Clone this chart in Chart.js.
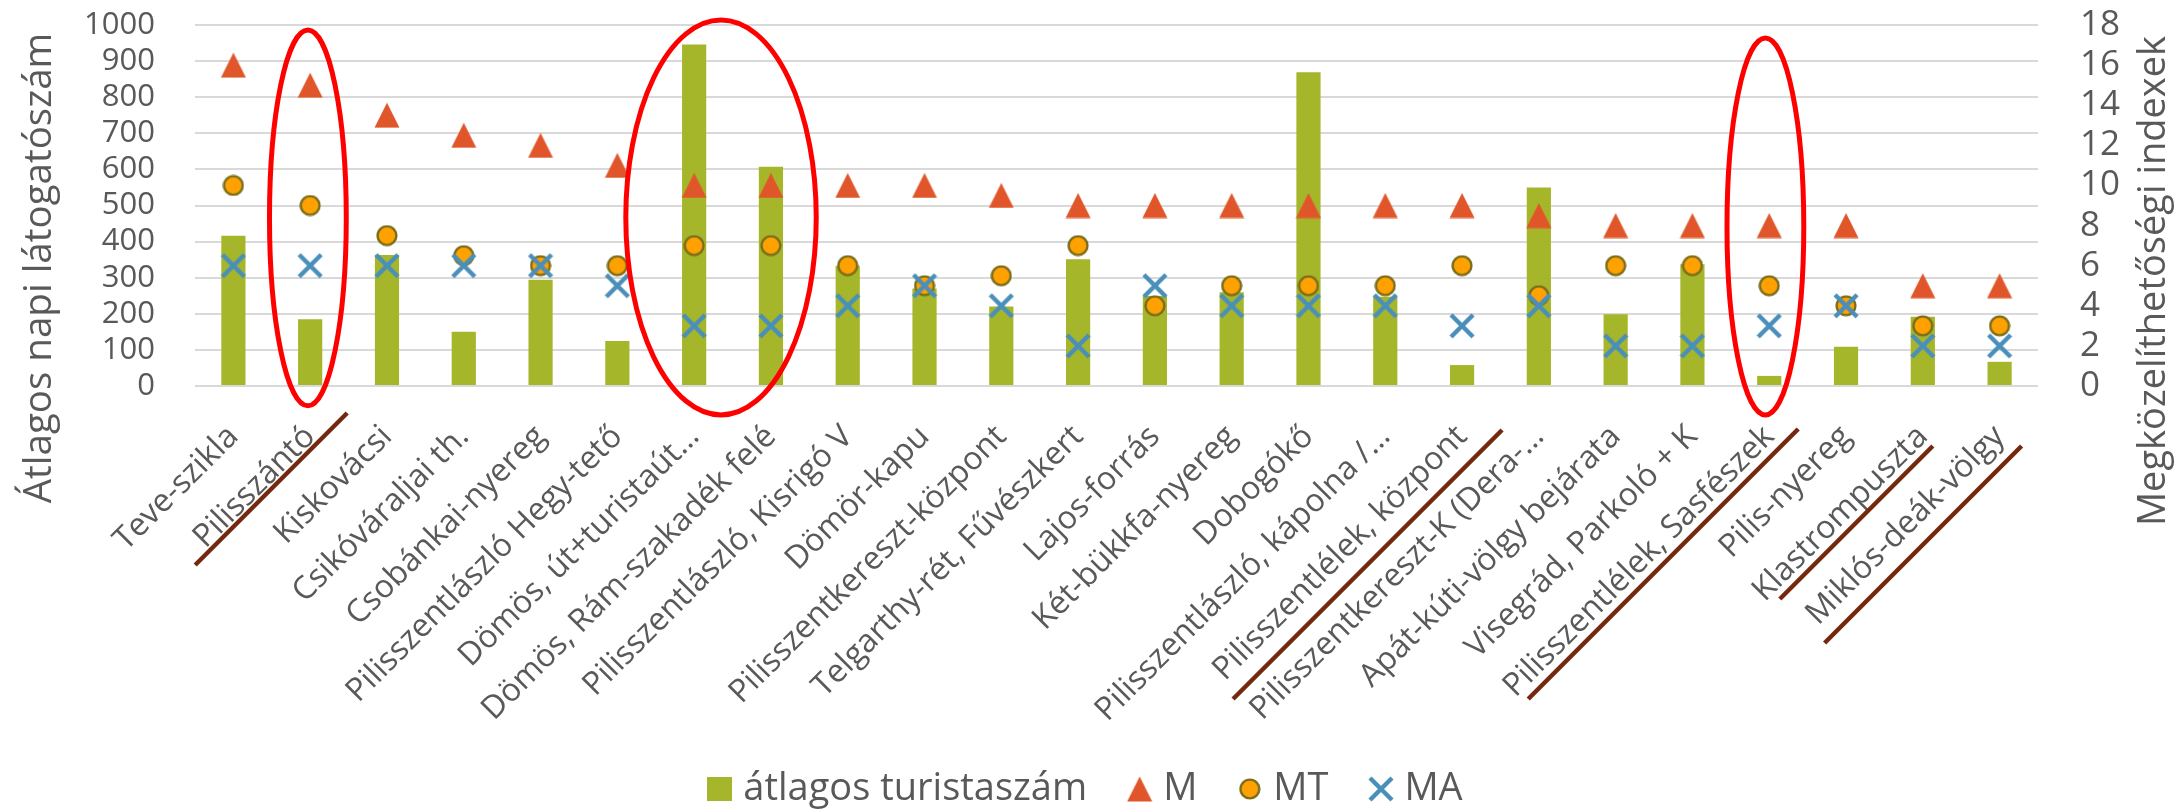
<!DOCTYPE html>
<html>
<head>
<meta charset="utf-8">
<script src="https://cdn.jsdelivr.net/npm/chart.js@4.4.1/dist/chart.umd.min.js"></script>
<style>
html, body { margin: 0; padding: 0; background: #fff; }
#wrap { width: 2178px; height: 812px; }
</style>
</head>
<body>
<div id="wrap"><canvas id="chart"></canvas></div>
<script>
var helyszinek = [
    'Teve-szikla', 'Pilisszántó', 'Kiskovácsi', 'Csikóváraljai th.', 'Csobánkai-nyereg',
    'Pilisszentlászló Hegy-tető', 'Dömös, út+turistaút…', 'Dömös, Rám-szakadék felé',
    'Pilisszentlászló, Kisrigó V', 'Dömör-kapu', 'Pilisszentkereszt-központ',
    'Telgarthy-rét, Fűvészkert', 'Lajos-forrás', 'Két-bükkfa-nyereg', 'Dobogókő',
    'Pilisszentlászló, kápolna /…', 'Pilisszentlélek, központ', 'Pilisszentkereszt-K (Dera-…',
    'Apát-kúti-völgy bejárata', 'Visegrád, Parkoló + K', 'Pilisszentlélek, Sasfészek',
    'Pilis-nyereg', 'Klastrompuszta', 'Miklós-deák-völgy'
];
var turistaszam = [416, 185, 363, 150, 294, 125, 946, 607, 333, 270, 220, 351,
    249, 260, 869, 247, 58, 550, 199, 337, 28, 109, 192, 67];
var indexM = [16, 15, 13.5, 12.5, 12, 11, 10, 10, 10, 10, 9.5, 9,
    9, 9, 9, 9, 9, 8.5, 8, 8, 8, 8, 5, 5];
var indexMT = [10, 9, 7.5, 6.5, 6, 6, 7, 7, 6, 5, 5.5, 7,
    4, 5, 5, 5, 6, 4.5, 6, 6, 5, 4, 3, 3];
var indexMA = [6, 6, 6, 6, 6, 5, 3, 3, 4, 5, 4, 2,
    5, 4, 4, 4, 3, 4, 2, 2, 3, 4, 2, 2];

// piros ellipszisek: közép és félszélesség kategóriában, magasság a bal tengely értékeiben
var ellipszisek = [
    { kozep: 1.47, fel: 0.5, felso: 986, also: -55 },
    { kozep: 6.85, fel: 1.24, felso: 1014, also: -80 },
    { kozep: 20.45, fel: 0.5, felso: 964, also: -80 }
];
// barna aláhúzások a feliratok alatt
var alahuzasok = [
    { i: 1, dx: 37, dy: 27, hossz: 152 },
    { i: 16, dx: 40, dy: 44, hossz: 269 },
    { i: 20, dx: 29, dy: 43, hossz: 270 },
    { i: 22, dx: 10, dy: 60, hossz: 153 },
    { i: 23, dx: 22, dy: 60, hossz: 197 }
];

var SZOVEG = '#595959';
var BETU = "'Open Sans', sans-serif";

function jelkep(w, h, rajz) {
    var c = document.createElement('canvas');
    c.width = w; c.height = h;
    rajz(c.getContext('2d'));
    return c;
}
var negyzet = jelkep(25, 24, function (g) { g.fillStyle = '#a6b62a'; g.fillRect(0, 0, 25, 24); });
var haromszog = jelkep(26, 26, function (g) {
    g.fillStyle = '#e0562a';
    g.beginPath(); g.moveTo(13, 0.5); g.lineTo(25.5, 25.5); g.lineTo(0.5, 25.5); g.closePath(); g.fill();
});
var kor = jelkep(22, 22, function (g) {
    g.fillStyle = '#ffa100'; g.strokeStyle = '#7a6e1c'; g.lineWidth = 2.4;
    g.beginPath(); g.arc(11, 11, 9.4, 0, Math.PI * 2); g.fill(); g.stroke();
});
var iksz = jelkep(26, 26, function (g) {
    g.strokeStyle = '#4a8fba'; g.lineWidth = 4.5;
    g.beginPath(); g.moveTo(2, 2); g.lineTo(24, 24); g.moveTo(24, 2); g.lineTo(2, 24); g.stroke();
});

var jelolesek = {
    id: 'jelolesek',
    afterDraw: function (chart) {
        var ctx = chart.ctx, x = chart.scales.x, y = chart.scales.y;
        var x0 = x.getPixelForValue(0), w = x.getPixelForValue(1) - x0;
        ctx.save();
        ctx.strokeStyle = '#ff0000';
        ctx.lineWidth = 5;
        ellipszisek.forEach(function (e) {
            var t = y.getPixelForValue(e.felso), b = y.getPixelForValue(e.also);
            ctx.beginPath();
            ctx.ellipse(x0 - w / 2 + e.kozep * w, (t + b) / 2, e.fel * w, (b - t) / 2, 0, 0, Math.PI * 2);
            ctx.stroke();
        });
        ctx.strokeStyle = '#74290f';
        ctx.lineWidth = 4.5;
        alahuzasok.forEach(function (a) {
            var px = x.getPixelForValue(a.i) + a.dx, py = x.top + a.dy;
            ctx.beginPath();
            ctx.moveTo(px, py);
            ctx.lineTo(px - a.hossz, py + a.hossz);
            ctx.stroke();
        });
        ctx.fillStyle = SZOVEG;
        ctx.textAlign = 'center';
        ctx.textBaseline = 'middle';
        ctx.font = '38.5px ' + BETU;
        ctx.translate(40, 268); ctx.rotate(-Math.PI / 2);
        ctx.fillText('Átlagos napi látogatószám', 0, 0);
        ctx.setTransform(1, 0, 0, 1, 0, 0);
        ctx.font = '38px ' + BETU;
        ctx.translate(2154, 281); ctx.rotate(-Math.PI / 2);
        ctx.fillText('Megközelíthetőségi indexek', 0, 0);
        ctx.restore();
    }
};

function nincsMargo(s, szel) {
    s.width = szel;
    s.paddingTop = 0;
    s.paddingBottom = 0;
}

new Chart(document.getElementById('chart'), {
    data: {
        labels: helyszinek,
        datasets: [
            { type: 'bar', label: 'átlagos turistaszám', data: turistaszam, yAxisID: 'y',
              backgroundColor: '#a6b62a', categoryPercentage: 1, barPercentage: 0.315,
              pointStyle: negyzet, order: 4 },
            { type: 'line', label: 'M', data: indexM, yAxisID: 'y1', showLine: false,
              pointStyle: haromszog, pointRadius: 10, order: 3 },
            { type: 'line', label: 'MT', data: indexMT, yAxisID: 'y1', showLine: false,
              pointStyle: kor, pointRadius: 10, order: 2 },
            { type: 'line', label: 'MA', data: indexMA, yAxisID: 'y1', showLine: false,
              pointStyle: iksz, pointRadius: 10, order: 1 }
        ]
    },
    options: {
        responsive: true,
        maintainAspectRatio: false,
        animation: false,
        devicePixelRatio: 1,
        layout: { padding: { top: 25, left: 0, right: 0, bottom: -6 } },
        plugins: {
            tooltip: { enabled: false },
            legend: {
                position: 'bottom',
                labels: {
                    usePointStyle: true, boxWidth: 9, padding: 48, color: SZOVEG,
                    font: { family: BETU, size: 38 },
                    sort: function (a, b) { return a.datasetIndex - b.datasetIndex; }
                }
            }
        },
        scales: {
            x: {
                grid: { display: false }, border: { display: false },
                ticks: { color: SZOVEG, font: { family: BETU, size: 32 }, autoSkip: false,
                         maxRotation: 45, minRotation: 45, padding: 24 },
                afterFit: function (s) { s.height = 336; s.paddingLeft = 0; s.paddingRight = 0; }
            },
            y: {
                position: 'left', min: 0, max: 1000,
                grid: { color: '#d9d9d9', lineWidth: 2, drawTicks: false }, border: { display: false },
                ticks: { stepSize: 100, autoSkip: false, color: SZOVEG, padding: 40,
                         font: { family: BETU, size: 31 },
                         callback: function (v) { return String(v); } },
                afterFit: function (s) { nincsMargo(s, 195); }
            },
            y1: {
                position: 'right', min: 0, max: 18,
                grid: { drawOnChartArea: false, drawTicks: false }, border: { display: false },
                ticks: { stepSize: 2, autoSkip: false, color: SZOVEG, padding: 42,
                         font: { family: BETU, size: 35 } },
                afterFit: function (s) { nincsMargo(s, 140); }
            }
        }
    },
    plugins: [jelolesek]
});
</script>
</body>
</html>
